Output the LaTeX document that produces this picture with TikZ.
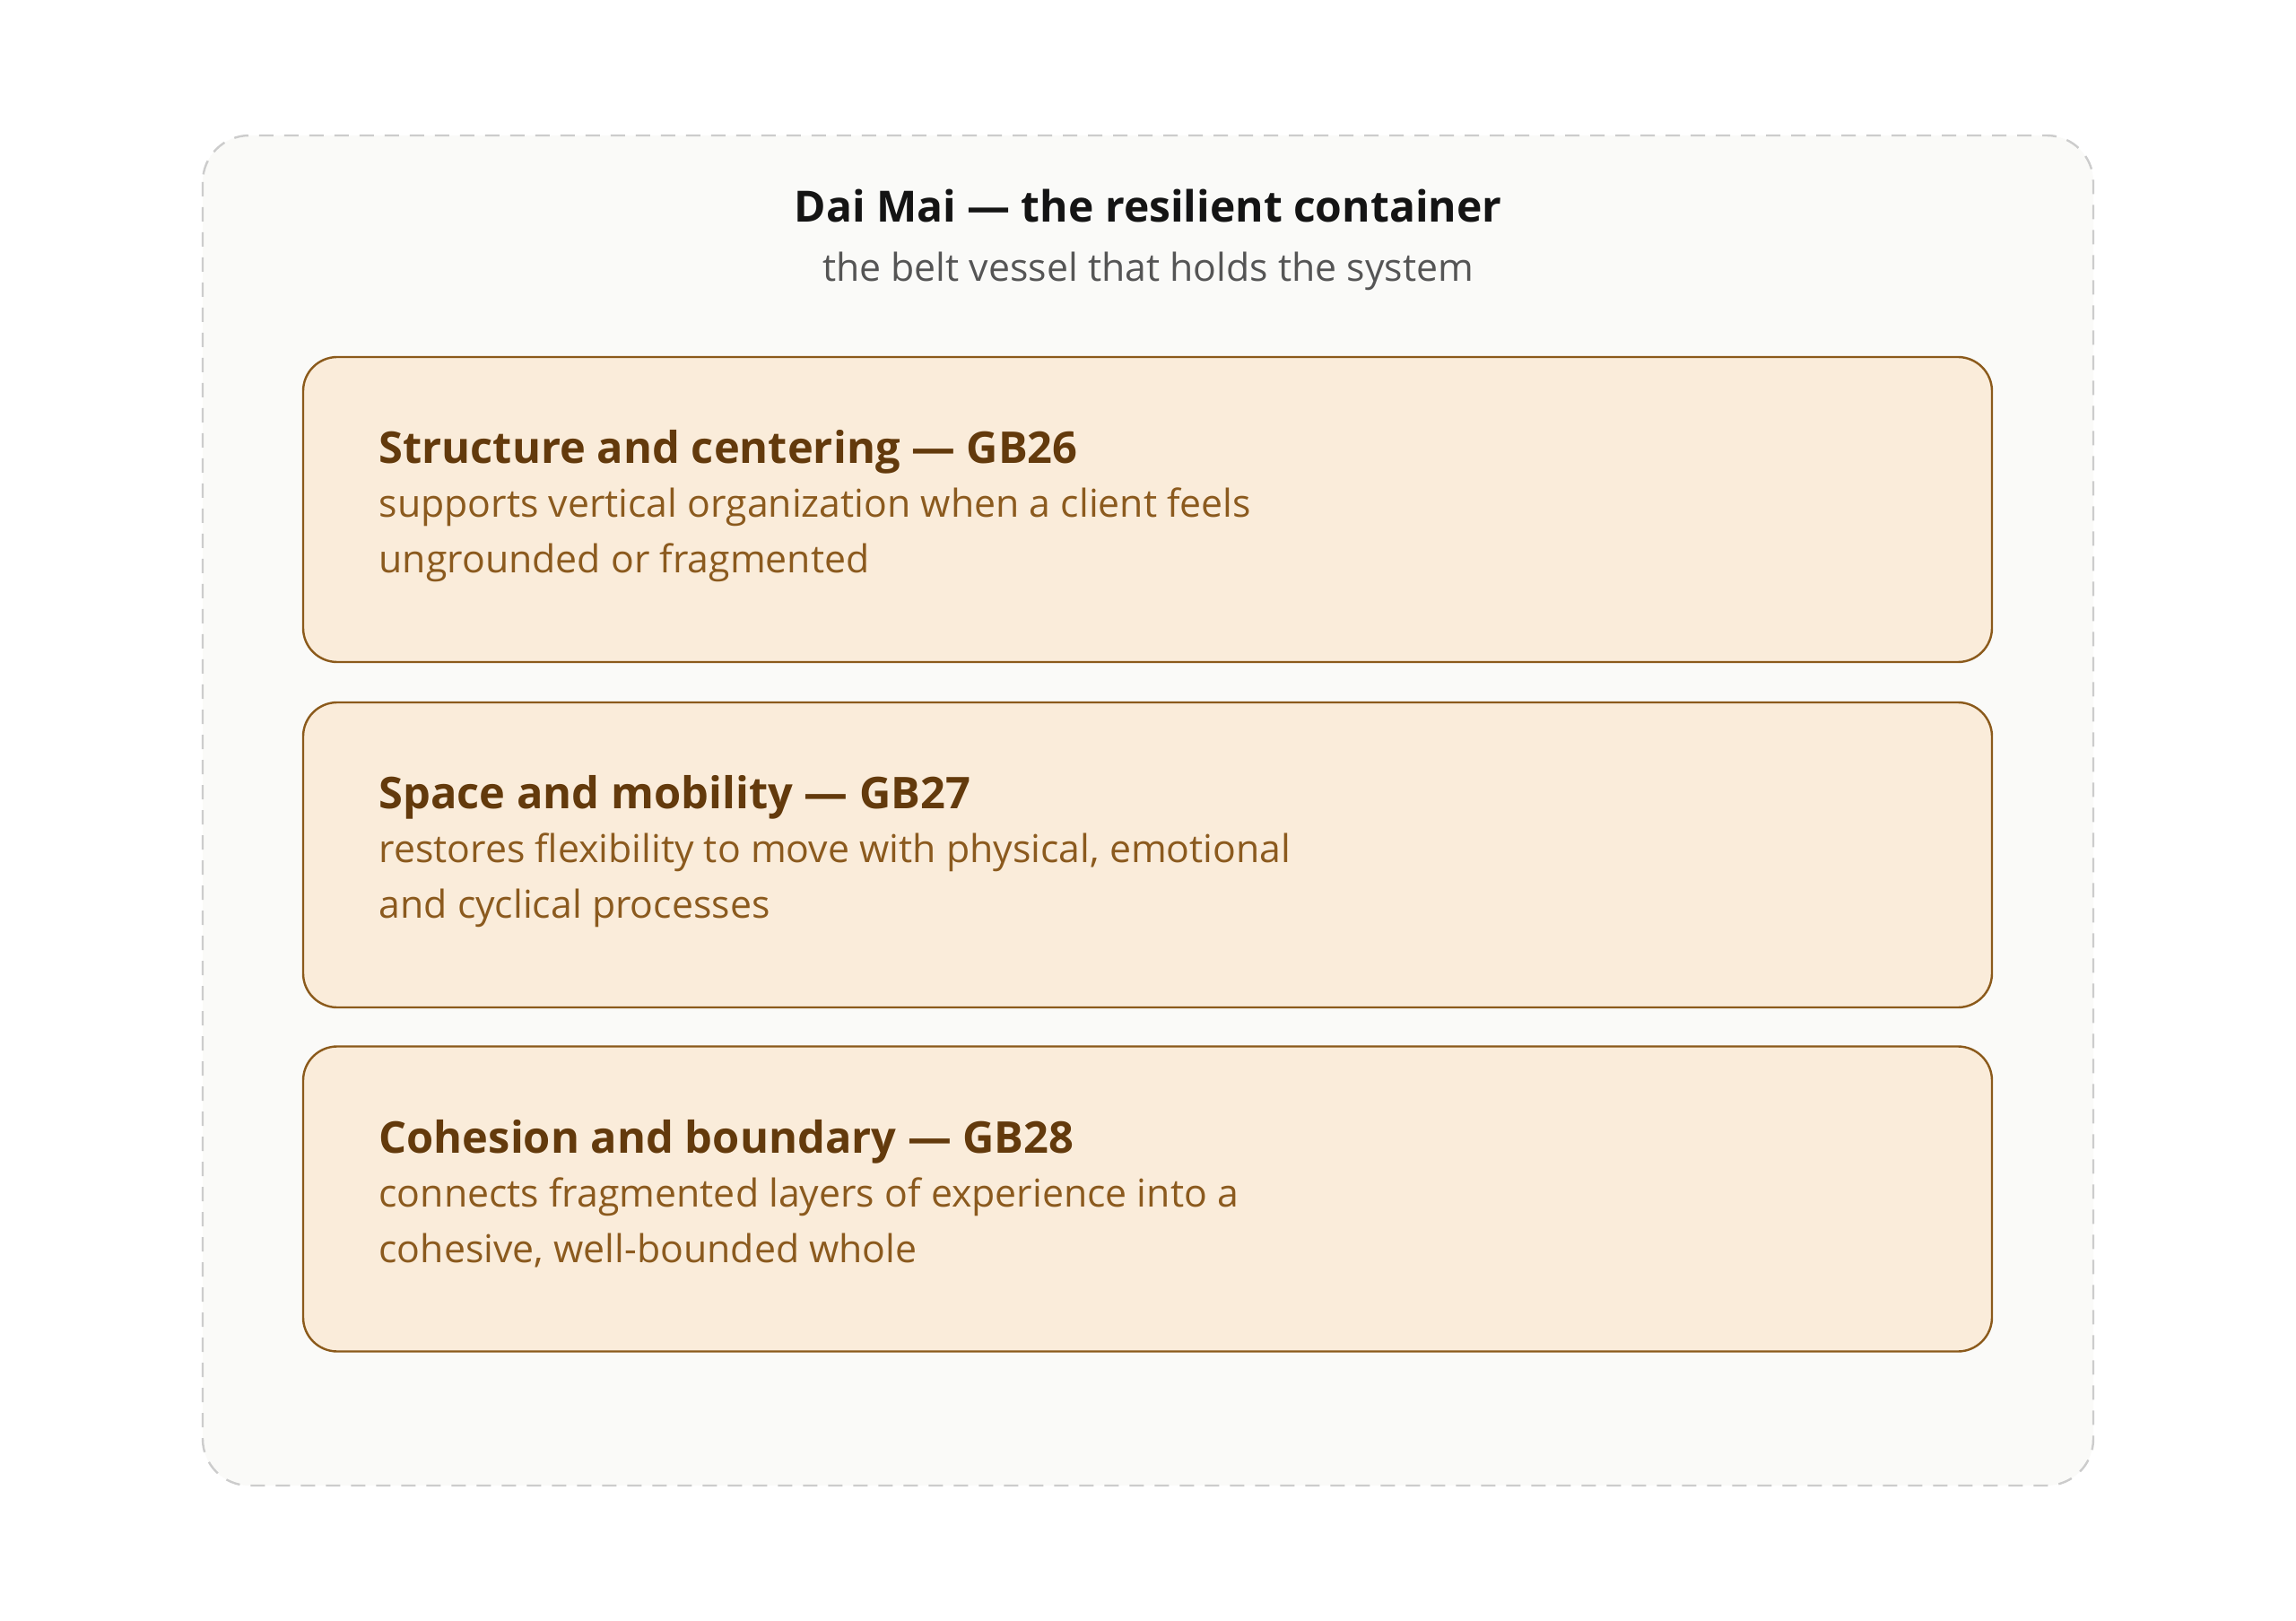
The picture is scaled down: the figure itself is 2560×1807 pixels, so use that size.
\documentclass[tikz,border=0pt]{standalone}
\usepackage{fontspec}
\setmainfont{Open Sans}
\usetikzlibrary{calc}

\definecolor{panelfill}{HTML}{FAFAF8}
\definecolor{panelline}{HTML}{CCCCCC}
\definecolor{cardfill}{HTML}{FAECDA}
\definecolor{cardline}{HTML}{8B5A1B}
\definecolor{headbrown}{HTML}{633A0C}
\definecolor{textbrown}{HTML}{8B5A1E}
\definecolor{subgray}{HTML}{555555}

\begin{document}
\begin{tikzpicture}[x=0.25pt, y=-0.25pt,
    panel/.style={draw=panelline, fill=panelfill, line width=0.6pt, dash pattern=on 4pt off 3pt, rounded corners=13pt},
    card/.style={draw=cardline, fill=cardfill, line width=0.6pt, rounded corners=9.5pt, minimum width=470.75pt, minimum height=85pt, inner sep=0pt},
    head/.style={anchor=base west, inner sep=0pt, text=headbrown, font=\fontsize{12.2}{14}\selectfont\bfseries},
    desc/.style={anchor=base west, inner sep=0pt, text=textbrown, font=\fontsize{10.7}{13}\selectfont}]
  \useasboundingbox (0,0) rectangle (2560,1807);
  \fill[white] (0,0) rectangle (2560,1807);

  % outer container
  \draw[panel] (226,151) rectangle (2334,1656);
  \node[anchor=base, inner sep=0pt, font=\fontsize{12}{14}\selectfont\bfseries, text=black!92] (title) at (1280,248) {Dai Mai — the resilient container};
  \node[anchor=base, inner sep=0pt, font=\fontsize{10.7}{13}\selectfont, text=subgray] (subtitle) at (1280,314) {the belt vessel that holds the system};

  % three cards
  \node[card] (gb26) at (1279.5,568) {};
  \node[card] (gb27) at (1279.5,953) {};
  \node[card] (gb28) at (1279.5,1336.5) {};

  \node[head] (gb26h) at ($(gb26.north west)+(85,120)$) {Structure and centering — GB26};
  \node[desc] (gb26a) at ($(gb26.north west)+(85,180)$) {supports vertical organization when a client feels};
  \node[desc] (gb26b) at ($(gb26.north west)+(85,242)$) {ungrounded or fragmented};

  \node[head] (gb27h) at ($(gb27.north west)+(85,120)$) {Space and mobility — GB27};
  \node[desc] (gb27a) at ($(gb27.north west)+(85,180)$) {restores flexibility to move with physical, emotional};
  \node[desc] (gb27b) at ($(gb27.north west)+(85,242)$) {and cyclical processes};

  \node[head] (gb28h) at ($(gb28.north west)+(85,120)$) {Cohesion and boundary — GB28};
  \node[desc] (gb28a) at ($(gb28.north west)+(85,180)$) {connects fragmented layers of experience into a};
  \node[desc] (gb28b) at ($(gb28.north west)+(85,242)$) {cohesive, well-bounded whole};
\end{tikzpicture}
\end{document}
